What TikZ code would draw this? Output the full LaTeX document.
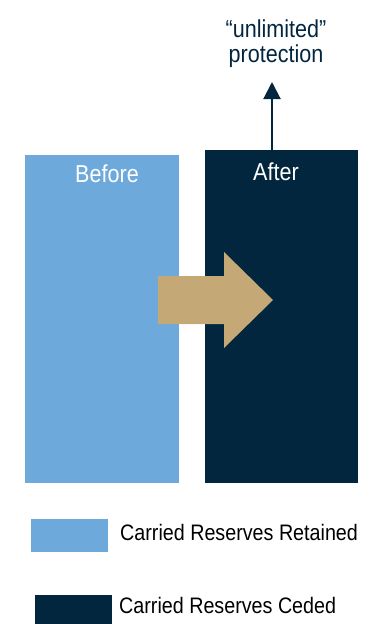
\documentclass[tikz,border=0pt]{standalone}
\usepackage{fontspec}
\setmainfont{Liberation Sans}[FakeStretch=0.88]
\usetikzlibrary{arrows.meta}
\definecolor{retained}{HTML}{6EA9DB}
\definecolor{ceded}{HTML}{03263F}
\definecolor{tan}{HTML}{C4A977}
\begin{document}
\begin{tikzpicture}[x=1pt,y=-1pt,
  bar/.style={inner sep=0pt, outer sep=0pt, anchor=north west},
  bigtxt/.style={font=\fontsize{24.5}{28}\selectfont, inner sep=0pt},
  legtxt/.style={font=\fontsize{22.4}{26}\selectfont, inner sep=0pt, anchor=base west, text=black}]
\useasboundingbox (0,0) rectangle (374,624);
% bars
\node[bar, fill=retained, minimum width=154pt, minimum height=328pt] (before) at (25,155) {};
\node[bar, fill=ceded, minimum width=153pt, minimum height=333pt] (after) at (205,150) {};
% bar labels
\node[bigtxt, text=white, anchor=base] (beforelbl) at (107,182) {Before};
\node[bigtxt, text=white, anchor=base] (afterlbl) at (276,180) {After};
% transfer arrow
\fill[tan] (158,276) -- (224,276) -- (224,252) -- (273,300) -- (224,348) -- (224,324) -- (158,324) -- cycle;
% protection arrow
\coordinate (tip) at (272,82);
\draw[ceded, line width=2pt, -{Triangle[width=17pt,length=17pt]}] (after.north -| tip) -- (tip);
\node[bigtxt, text=ceded, anchor=base] (prot1) at (276,37) {“unlimited”};
\node[bigtxt, text=ceded, anchor=base] (prot2) at (276,62) {protection};
% legend
\node[bar, fill=retained, minimum width=77pt, minimum height=33pt] (legA) at (31,519) {};
\node[legtxt] (legAtxt) at (120,540) {Carried Reserves Retained};
\node[bar, fill=ceded, minimum width=77pt, minimum height=29pt] (legB) at (35,595) {};
\node[legtxt] (legBtxt) at (119,613) {Carried Reserves Ceded};
\end{tikzpicture}
\end{document}
